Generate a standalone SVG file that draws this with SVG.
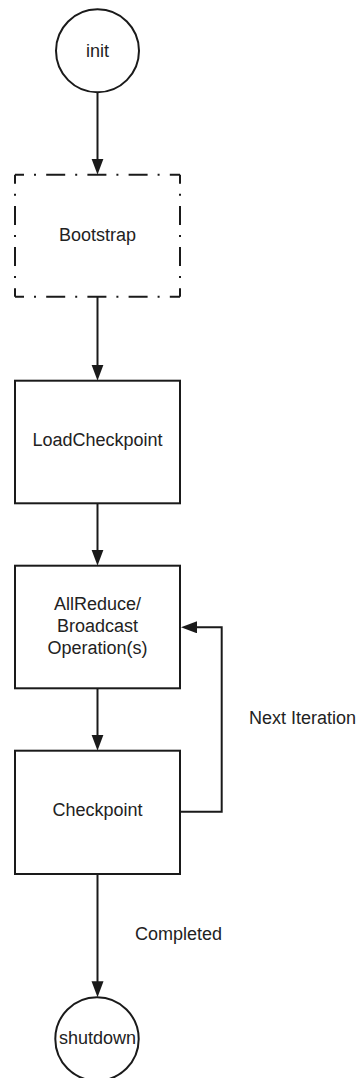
<svg xmlns="http://www.w3.org/2000/svg" width="361" height="1078" viewBox="0 0 361 1078">
  <style>
    .shape { fill: #ffffff; stroke: #1a1a1a; stroke-width: 2; }
    .dashed { fill: none; stroke: #1a1a1a; stroke-width: 2; stroke-dasharray: 19 10 2 10.2; stroke-dashoffset: 10; }
    .label { font-family: "Liberation Sans", Arial, sans-serif; font-size: 18px; fill: #222222; }
    .mid { text-anchor: middle; }
    .edge { fill: none; stroke: #1a1a1a; stroke-width: 2; marker-end: url(#arrow); }
  </style>
  <defs>
    <marker id="arrow" markerUnits="userSpaceOnUse" markerWidth="18" markerHeight="14" refX="8" refY="6" orient="auto">
      <path d="M0,0 L16,6 L0,12 Z" fill="#1a1a1a"/>
    </marker>
  </defs>

  <rect width="361" height="1078" fill="#ffffff"/>

  <!-- connectors -->
  <g id="connectors">
    <path class="edge" d="M97.5,92.5 L97.5,166.7"/>
    <path class="edge" d="M97.5,296.7 L97.5,372.7"/>
    <path class="edge" d="M97.5,503.3 L97.5,557.7"/>
    <path class="edge" d="M97.5,688.3 L97.5,742.7"/>
    <path class="edge" d="M180,811.7 L221.7,811.7 L221.7,627.3 L189,627.3"/>
    <path class="edge" d="M97.5,874 L97.5,989.3"/>
    <text class="label" x="249" y="723.5">Next Iteration</text>
    <text class="label" x="135" y="940">Completed</text>
  </g>

  <!-- start state -->
  <g id="init">
    <circle class="shape" cx="97.5" cy="50.8" r="41.5"/>
    <text class="label mid" x="97.5" y="56.5">init</text>
  </g>

  <!-- bootstrap: dash-dot outline, one line per side -->
  <g id="bootstrap">
    <line class="dashed" x1="15" y1="174.7" x2="180" y2="174.7"/>
    <line class="dashed" x1="180" y1="174.7" x2="180" y2="296.7"/>
    <line class="dashed" x1="15" y1="174.7" x2="15" y2="296.7"/>
    <line class="dashed" x1="15" y1="296.7" x2="180" y2="296.7"/>
    <text class="label mid" x="97.5" y="241">Bootstrap</text>
  </g>

  <g id="load-checkpoint">
    <rect class="shape" x="15" y="380.7" width="165" height="122.6"/>
    <text class="label mid" x="97.5" y="446">LoadCheckpoint</text>
  </g>

  <g id="allreduce">
    <rect class="shape" x="15" y="565.7" width="165" height="122.6"/>
    <text class="label mid" x="97.5" y="609.5">AllReduce/</text>
    <text class="label mid" x="97.5" y="631.5">Broadcast</text>
    <text class="label mid" x="97.5" y="653.5">Operation(s)</text>
  </g>

  <g id="checkpoint">
    <rect class="shape" x="15" y="750.7" width="165" height="123.3"/>
    <text class="label mid" x="97.5" y="816">Checkpoint</text>
  </g>

  <!-- end state -->
  <g id="shutdown">
    <circle class="shape" cx="97" cy="1039" r="41.7"/>
    <text class="label mid" x="97.5" y="1044">shutdown</text>
  </g>
</svg>
